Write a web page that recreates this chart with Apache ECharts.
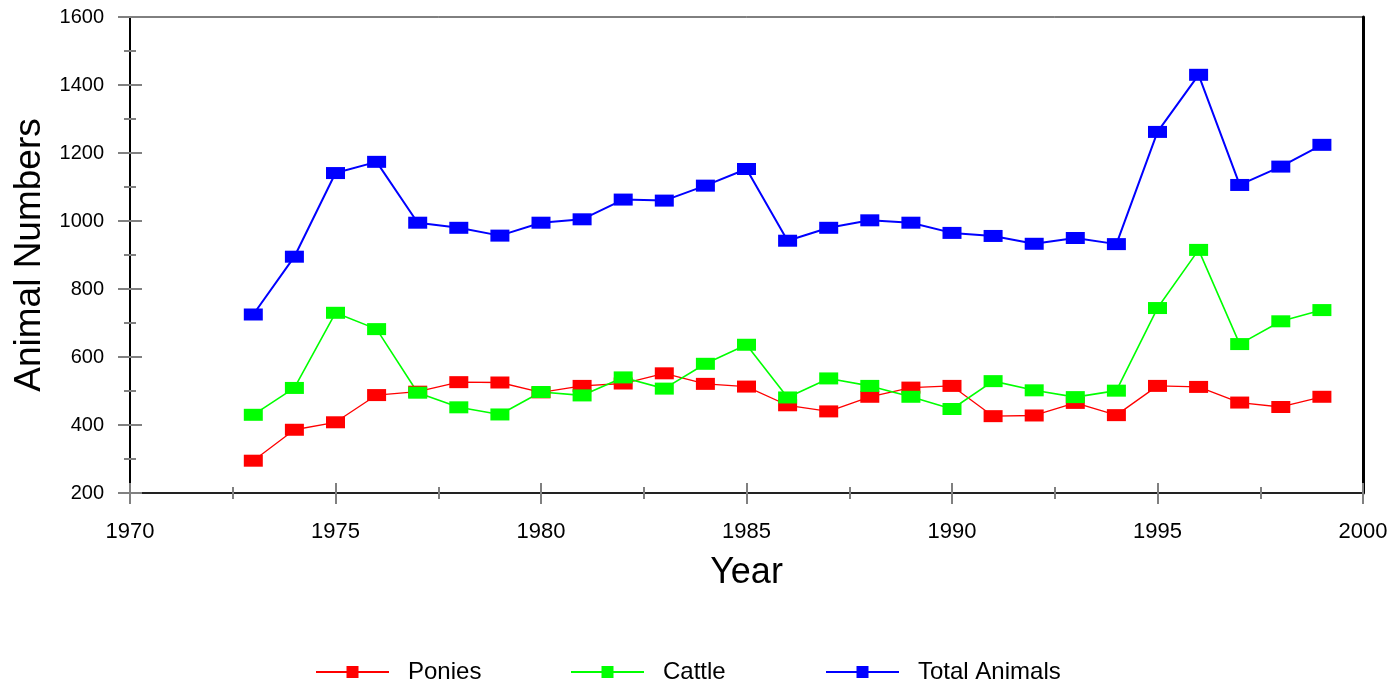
<!DOCTYPE html>
<html>
<head>
<meta charset="utf-8">
<script src="https://cdn.jsdelivr.net/npm/echarts@6/dist/echarts.min.js"></script>
<style>
  html, body { margin: 0; padding: 0; background: #fff; }
  #chart { width: 1395px; height: 686px; }
</style>
</head>
<body>
<div id="chart"></div>
<script>
// Annual animal counts, 1973-1999
const years = [1973, 1974, 1975, 1976, 1977, 1978, 1979, 1980, 1981, 1982, 1983, 1984, 1985, 1986,
  1987, 1988, 1989, 1990, 1991, 1992, 1993, 1994, 1995, 1996, 1997, 1998, 1999];
const ponies = [295, 386, 408, 488, 498, 526, 525, 496, 515, 522, 552, 521, 513, 458,
  440, 483, 510, 515, 426, 428, 465, 429, 515, 512, 466, 453, 483];
const cattle = [430, 509, 730, 682, 495, 452, 431, 497, 487, 540, 507, 580, 636, 481,
  537, 515, 483, 447, 529, 502, 482, 501, 744, 915, 638, 705, 738];
const totalAnimals = [725, 895, 1141, 1174, 995, 980, 957, 995, 1005, 1063, 1060, 1104, 1153, 942,
  980, 1002, 995, 965, 956, 933, 950, 932, 1262, 1430, 1106, 1160, 1224];

const yearTicks = { min: 1970, max: 2000, interval: 5 };
const countTicks = { min: 200, max: 1600, interval: 200 };

const FONT = '"Liberation Sans", Arial, Helvetica, sans-serif';
const tickGray = '#808080';
const plain = v => String(v);

const chart = echarts.init(document.getElementById('chart'), null, { renderer: 'canvas' });

function pairs(values) {
  return years.map((y, i) => [y, values[i]]);
}

function lineSeries(name, values, color, width) {
  return {
    name: name,
    type: 'line',
    data: pairs(values),
    xAxisIndex: 0,
    yAxisIndex: 0,
    symbol: 'rect',
    symbolSize: [19, 12],
    showAllSymbol: true,
    itemStyle: { color: color },
    lineStyle: { color: color, width: width },
    emphasis: { disabled: true },
    animation: false
  };
}

function legendAt(name, left) {
  return {
    data: [name],
    left: left,
    top: 655,
    itemWidth: 73,
    itemHeight: 15,
    selectedMode: false,
    textStyle: { fontFamily: FONT, fontSize: 24, color: '#000', padding: [0, 0, 0, 14] }
  };
}

const option = {
  backgroundColor: '#fff',
  animation: false,
  grid: {
    left: 130, right: 32, top: 17, bottom: 193,
    show: true, borderColor: '#000', borderWidth: 1, backgroundColor: 'transparent'
  },
  legend: [
    legendAt('Ponies', 310),
    legendAt('Cattle', 565),
    legendAt('Total Animals', 820)
  ],
  xAxis: [
    {
      type: 'value', position: 'bottom',
      min: yearTicks.min, max: yearTicks.max, interval: yearTicks.interval,
      name: 'Year', nameLocation: 'middle', nameGap: 62,
      nameTextStyle: { fontFamily: FONT, fontSize: 36, color: '#000' },
      axisLine: { show: true, lineStyle: { color: '#222', width: 2 } },
      axisTick: { show: true, inside: false, length: 11, lineStyle: { color: tickGray, width: 2 } },
      minorTick: { show: true, splitNumber: 2, length: 6, lineStyle: { color: tickGray, width: 2 } },
      axisLabel: { fontFamily: FONT, fontSize: 22, color: '#000', margin: 28, formatter: plain },
      splitLine: { show: false }
    },
    {
      type: 'value', position: 'bottom', offset: 0,
      min: yearTicks.min, max: yearTicks.max, interval: yearTicks.interval,
      axisLine: { show: false },
      axisTick: { show: true, inside: true, length: 10, lineStyle: { color: tickGray, width: 2 } },
      minorTick: { show: true, splitNumber: 2, length: 6, lineStyle: { color: tickGray, width: 2 } },
      axisLabel: { show: false },
      splitLine: { show: false }
    }
  ],
  yAxis: [
    {
      type: 'value', position: 'left',
      min: countTicks.min, max: countTicks.max, interval: countTicks.interval,
      name: 'Animal Numbers', nameLocation: 'middle', nameGap: 68,
      nameTextStyle: { fontFamily: FONT, fontSize: 37, color: '#000' },
      axisLine: { show: true, lineStyle: { color: '#000', width: 2 } },
      axisTick: { show: true, inside: false, length: 12, lineStyle: { color: tickGray, width: 2 } },
      minorTick: { show: true, splitNumber: 2, length: 6, lineStyle: { color: tickGray, width: 2 } },
      axisLabel: { fontFamily: FONT, fontSize: 20, color: '#000', margin: 26, formatter: plain },
      splitLine: { show: false }
    },
    {
      type: 'value', position: 'left', offset: 0,
      min: countTicks.min, max: countTicks.max, interval: countTicks.interval,
      axisLine: { show: false },
      axisTick: { show: true, inside: true, length: 12, lineStyle: { color: tickGray, width: 2 } },
      minorTick: { show: true, splitNumber: 2, length: 6, lineStyle: { color: tickGray, width: 2 } },
      axisLabel: { show: false },
      splitLine: { show: false }
    },
    {
      type: 'value', position: 'right', offset: 0,
      min: countTicks.min, max: countTicks.max, interval: countTicks.interval,
      axisLine: { show: true, lineStyle: { color: '#000', width: 3 } },
      axisTick: { show: false },
      axisLabel: { show: false },
      splitLine: { show: false }
    }
  ],
  series: [
    lineSeries('Ponies', ponies, '#ff0000', 1.3),
    lineSeries('Cattle', cattle, '#00ff00', 1.6),
    lineSeries('Total Animals', totalAnimals, '#0000ff', 2)
  ]
};

chart.setOption(option);
</script>
</body>
</html>
